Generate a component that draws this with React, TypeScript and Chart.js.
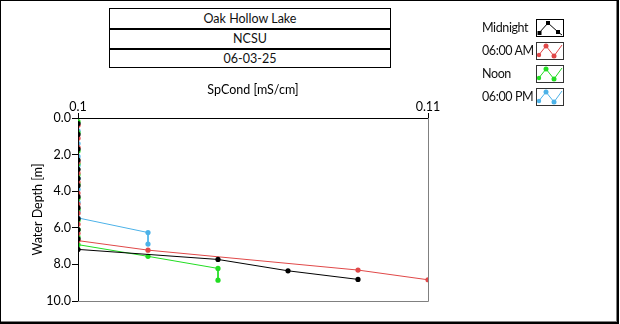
import React, { useEffect, useRef } from "react";
import { Chart, registerables } from "chart.js";

Chart.register(...registerables);

const FONT = "Lato, 'Noto Sans', 'DejaVu Sans', sans-serif";
const FS = 12.5;

const titleRows = ["Oak Hollow Lake", "NCSU", "06-03-25"];
const xTickValues = [0.1, 0.11];
const xAxisTitle = "SpCond [mS/cm]";
const yAxisTitle = "Water Depth [m]";

const midnightCond = [0.1, 0.1, 0.1, 0.1, 0.1, 0.1, 0.1, 0.1, 0.1, 0.1, 0.1, 0.1, 0.1, 0.104, 0.106, 0.108];
const midnightDepth = [0.3, 0.9, 1.7, 2.3, 2.8, 3.3, 3.7, 4.3, 4.9, 5.5, 6.1, 6.6, 7.18, 7.73, 8.35, 8.82];

const am6Cond = [0.1, 0.1, 0.1, 0.1, 0.1, 0.1, 0.1, 0.1, 0.1, 0.1, 0.1, 0.1, 0.102, 0.108, 0.11];
const am6Depth = [0.4, 1.1, 1.6, 2.4, 3.0, 3.5, 4.1, 4.7, 5.2, 5.8, 6.3, 6.7, 7.22, 8.31, 8.84];

const noonCond = [0.1, 0.1, 0.1, 0.1, 0.1, 0.1, 0.1, 0.1, 0.1, 0.1, 0.1, 0.1, 0.102, 0.104, 0.104];
const noonDepth = [0.2, 0.8, 1.8, 2.5, 3.1, 3.6, 4.4, 5.0, 5.6, 6.1, 6.5, 6.92, 7.56, 8.22, 8.86];

const pm6Cond = [0.1, 0.1, 0.1, 0.1, 0.1, 0.1, 0.1, 0.1, 0.1, 0.102, 0.102];
const pm6Depth = [0.7, 1.4, 2.1, 2.6, 3.3, 3.9, 4.6, 5.1, 5.46, 6.26, 6.89];

const seriesNames = ["Midnight", "06:00 AM", "Noon", "06:00 PM"];
const seriesColors = ["#000000", "#e04848", "#22dd22", "#4cb2e8"];

const toPoints = (xs: number[], ys: number[]) => xs.map((x, i) => ({ x, y: ys[i] }));

const plotFrame = {
  id: "plotFrame",
  afterDatasetsDraw(chart: any) {
    const { ctx, chartArea: a } = chart;
    ctx.save();
    ctx.strokeStyle = "#808080";
    ctx.lineWidth = 1;
    ctx.beginPath();
    ctx.moveTo(Math.round(a.right) + 0.5, a.top);
    ctx.lineTo(Math.round(a.right) + 0.5, Math.round(a.bottom) + 0.5);
    ctx.lineTo(a.left, Math.round(a.bottom) + 0.5);
    ctx.stroke();
    ctx.restore();
  },
};

function LegendIcon({ color, square }: { color: string; square: boolean }) {
  if (square) {
    return (
      <svg width={28} height={18} style={{ display: "block" }}>
        <rect x={0.5} y={0.5} width={27} height={17} fill="#fff" stroke="#000" strokeWidth={1} />
        <polyline points="3,14 12,4 22,13 26,16" fill="none" stroke={color} strokeWidth={1} />
        <rect x={1.5} y={12} width={4} height={4} fill={color} />
        <rect x={10} y={2} width={4} height={4} fill={color} />
        <rect x={20} y={11} width={4} height={4} fill={color} />
      </svg>
    );
  }
  return (
    <svg width={28} height={18} style={{ display: "block" }}>
      <rect x={0.5} y={0.5} width={27} height={17} fill="#fff" stroke="#333" strokeWidth={1} />
      <polyline points="2,14 10,4 18,14 26,3" fill="none" stroke={color} strokeWidth={1} />
      <circle cx={3} cy={13} r={2.2} fill={color} />
      <circle cx={10} cy={4} r={2.5} fill={color} />
      <circle cx={18} cy={14} r={2.5} fill={color} />
    </svg>
  );
}

export default function App() {
  const canvasRef = useRef<HTMLCanvasElement>(null);

  useEffect(() => {
    if (!canvasRef.current) return;
    const seriesX = [midnightCond, am6Cond, noonCond, pm6Cond];
    const seriesY = [midnightDepth, am6Depth, noonDepth, pm6Depth];
    const chart = new Chart(canvasRef.current, {
      type: "scatter",
      data: {
        datasets: seriesNames.map((name, i) => ({
          label: name,
          data: toPoints(seriesX[i], seriesY[i]),
          showLine: true,
          borderColor: seriesColors[i],
          backgroundColor: seriesColors[i],
          borderWidth: 1,
          pointRadius: 2.6,
          pointBorderWidth: 0,
          pointHoverRadius: 2.6,
          clip: 0,
        })),
      },
      options: {
        responsive: false,
        animation: false,
        events: [],
        layout: { padding: { left: 0, top: 0, right: 192, bottom: 23 } },
        plugins: { legend: { display: false }, tooltip: { enabled: false } },
        scales: {
          x: {
            type: "linear",
            position: "top",
            min: 0.1,
            max: 0.11,
            afterFit: (s: any) => {
              s.height = 118;
            },
            afterBuildTicks: (s: any) => {
              s.ticks = xTickValues.map((v) => ({ value: v }));
            },
            ticks: {
              color: "#000",
              font: { family: FONT, size: FS },
              padding: -1,
              maxRotation: 0,
              callback: (v: any) => String(Math.round(Number(v) * 1000) / 1000),
            },
            grid: { display: true, drawOnChartArea: false, drawTicks: true, tickLength: 5, color: "#000" },
            border: { display: true, color: "#000", width: 1 },
            title: {
              display: true,
              text: xAxisTitle,
              color: "#000",
              font: { family: FONT, size: FS },
              padding: { top: 82, bottom: 0 },
            },
          },
          y: {
            type: "linear",
            position: "left",
            reverse: true,
            min: 0,
            max: 10,
            afterFit: (s: any) => {
              s.width = 78;
            },
            ticks: {
              stepSize: 2,
              color: "#000",
              font: { family: FONT, size: FS },
              padding: 1,
              callback: (v: any) => Number(v).toFixed(1),
            },
            grid: { display: true, drawOnChartArea: false, drawTicks: true, tickLength: 6, color: "#000" },
            border: { display: true, color: "#000", width: 1 },
            title: {
              display: true,
              text: yAxisTitle,
              color: "#000",
              font: { family: FONT, size: FS },
              padding: { top: 30, bottom: 0 },
            },
          },
        },
      },
      plugins: [plotFrame],
    });
    return () => chart.destroy();
  }, []);

  const textStyle: React.CSSProperties = { fontFamily: FONT, fontSize: FS, color: "#111", lineHeight: "18px", whiteSpace: "nowrap" };

  return (
    <div style={{ position: "fixed", left: 0, top: 0, width: 620, height: 324, background: "#fff", overflow: "hidden" }}>
      <canvas ref={canvasRef} width={620} height={324} style={{ position: "absolute", left: 0, top: 0 }} />
      {/* title box */}
      <div style={{ position: "absolute", left: 109, top: 8, width: 282, height: 60, boxSizing: "border-box", border: "1px solid #000", background: "#fff" }}>
        {titleRows.map((t, i) => (
          <div
            key={t}
            style={{
              ...textStyle,
              height: i === 0 ? 19 : 20,
              lineHeight: i === 0 ? "19px" : "18px",
              textAlign: "center",
              borderTop: i === 0 ? "none" : "2px solid #000",
              boxSizing: "border-box",
            }}
          >
            {t}
          </div>
        ))}
      </div>
      {/* legend */}
      {seriesNames.map((name, i) => (
        <div key={name} style={{ position: "absolute", left: 482, top: 19 + i * 23, height: 18, display: "flex", alignItems: "center" }}>
          <div style={{ ...textStyle, fontSize: 12.5, letterSpacing: "-0.4px", width: 54, overflow: "visible" }}>{name}</div>
          <LegendIcon color={seriesColors[i]} square={i === 0} />
        </div>
      ))}
      {/* outer frame */}
      <div
        style={{
          position: "absolute",
          left: 0,
          top: 0,
          width: 619,
          height: 324,
          boxSizing: "border-box",
          borderLeft: "1px solid #000",
          borderTop: "1px solid #000",
          borderRight: "2px solid #000",
          borderBottom: "2px solid #000",
          boxShadow: "inset -1px -1px 0 #808080",
          pointerEvents: "none",
        }}
      />
    </div>
  );
}
